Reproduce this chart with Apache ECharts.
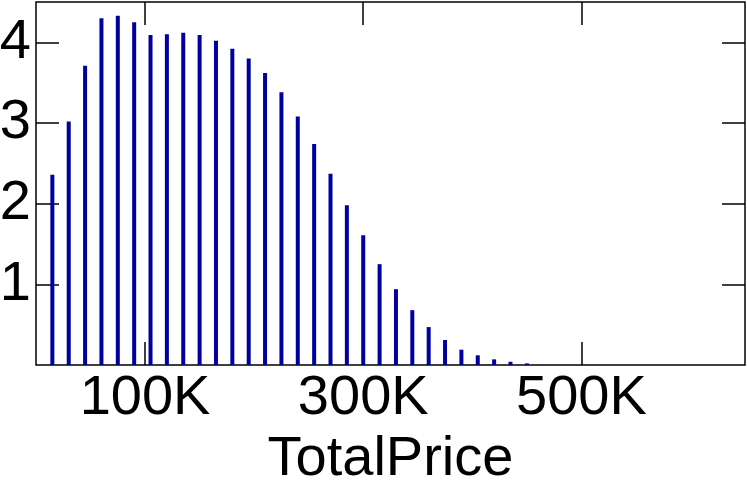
<!DOCTYPE html>
<html><head><meta charset="utf-8">
<script src="https://cdn.jsdelivr.net/npm/echarts@6/dist/echarts.min.js"></script>
<style>html,body{margin:0;padding:0;background:#fff}#c{width:747px;height:481px}</style>
</head><body><div id="c"></div>
<script>
const prices = [15000,30000,45000,60000,75000,90000,105000,120000,135000,150000,165000,180000,195000,210000,225000,240000,255000,270000,285000,300000,315000,330000,345000,360000,375000,390000,405000,420000,435000,450000];
const density = [2.36,3.02,3.71,4.30,4.33,4.25,4.09,4.10,4.12,4.09,4.02,3.92,3.80,3.62,3.38,3.08,2.74,2.37,1.98,1.61,1.25,0.94,0.68,0.47,0.31,0.19,0.12,0.07,0.04,0.02];
const xTicks = [100000,300000,500000];
const yTicks = [1,2,3,4];
const xName = 'TotalPrice';

const font = 'Liberation Sans, Arial, sans-serif';
const chart = echarts.init(document.getElementById('c'), null, {renderer:'canvas'});
const tickStyle = {color:'#000', width:1.5};
chart.setOption({
  animation:false,
  grid:{left:36,right:2,top:2,bottom:116,outerBoundsMode:'none',containLabel:false,show:true,borderColor:'#000',borderWidth:1.5,backgroundColor:'transparent'},
  xAxis:[{
    type:'value',min:0,max:650000,
    axisLine:{show:false,onZero:false},
    splitLine:{show:false},
    axisTick:{show:true,inside:true,length:23,lineStyle:tickStyle,customValues:xTicks},
    axisLabel:{show:true,customValues:xTicks,fontFamily:font,fontSize:56,color:'#000',margin:6,
      formatter:v=>(v/1000)+'K'},
    name:xName,nameLocation:'middle',nameGap:64,
    nameTextStyle:{fontFamily:font,fontSize:56,color:'#000'}
  },{
    type:'value',min:0,max:650000,position:'top',
    axisLine:{show:false,onZero:false},splitLine:{show:false},
    axisTick:{show:true,inside:true,length:23,lineStyle:tickStyle,customValues:xTicks},
    axisLabel:{show:false}
  }],
  yAxis:[{
    type:'value',min:0,max:4.5,
    axisLine:{show:false,onZero:false},splitLine:{show:false},
    axisTick:{show:true,inside:true,length:23,lineStyle:tickStyle,customValues:yTicks},
    axisLabel:{show:true,customValues:yTicks,fontFamily:font,fontSize:56,color:'#000',margin:5}
  },{
    type:'value',min:0,max:4.5,position:'right',
    axisLine:{show:false,onZero:false},splitLine:{show:false},
    axisTick:{show:true,inside:true,length:23,lineStyle:tickStyle,customValues:yTicks},
    axisLabel:{show:false}
  }],
  series:[{
    type:'bar',xAxisIndex:0,yAxisIndex:0,
    data:prices.map((p,i)=>[p,density[i]]),
    barWidth:4,
    itemStyle:{color:'#0000A0'}
  }]
});
</script></body></html>
